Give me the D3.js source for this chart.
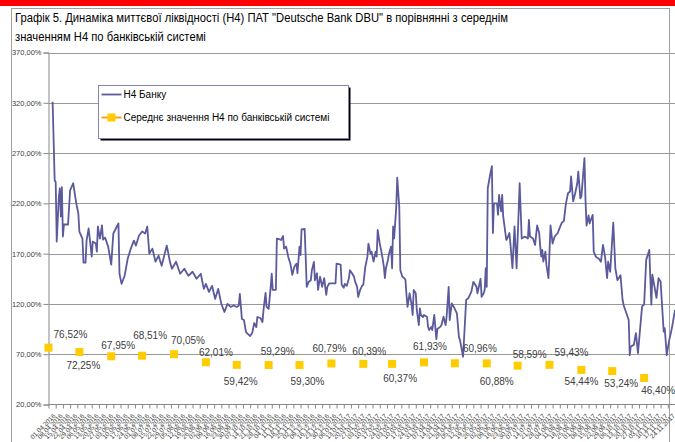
<!DOCTYPE html>
<html>
<head>
<meta charset="utf-8">
<script src="https://cdn.jsdelivr.net/npm/d3@7/dist/d3.min.js"></script>
<style>
  body { margin: 0; background: #fff; }
  svg { display: block; }
</style>
</head>
<body>
<div id="chart"></div>
<script>
// H4 of the bank: day offset from 01.04.2016 and value, %
const h4Day = [4, 6, 7, 8, 10, 11, 12, 13, 14, 15, 19, 21, 24, 27, 29, 30, 33, 34, 36, 37, 39, 41, 42, 43, 46, 47, 48, 50, 52, 53, 55, 57, 58, 61, 63, 68, 69,
  71, 74, 77, 80, 83, 85, 88, 91, 94, 96, 98, 101, 104, 107, 110, 113, 115, 118, 120, 124, 128, 132, 136, 140, 144, 148, 151, 153, 156, 159, 162, 165, 168, 171, 174,
  177, 180, 183, 185, 186, 188, 190, 192, 196, 198, 200, 202, 203, 206, 208, 209, 211, 212, 214, 216, 217, 218, 221, 222, 224, 226, 228, 229, 231, 233, 235, 237, 239,
  241, 242, 244, 245, 246, 249, 250, 251, 253, 255, 256, 258, 259, 261, 262, 264, 266, 268, 270, 271, 273, 279, 280, 284, 285, 287, 288, 290, 292, 293, 295, 297, 298,
  300, 301, 303, 305, 306, 308, 310, 311, 313, 314, 316, 318, 319, 320, 322, 324, 326, 327, 328, 330, 331, 333, 334, 335, 336, 338, 339, 341, 342, 344, 346, 347, 348,
  349, 351, 353, 354, 355, 357, 358, 360, 361, 362, 364, 365, 368, 369, 370, 372, 373, 375, 377, 378, 381, 382, 384, 386, 387, 389, 390, 392, 394, 397, 399, 400, 403,
  406, 408, 411, 413, 416, 417, 420, 421, 423, 424, 425, 426, 427, 429, 431, 432, 433, 436, 437, 438, 440, 441, 442, 445, 446, 448, 449, 451, 453, 455, 458, 460, 463,
  466, 467, 468, 471, 473, 475, 477, 478, 479, 480, 481, 483, 484, 486, 488, 490, 492, 495, 497, 499, 501, 503, 505, 507, 508, 510, 512, 514, 515, 517, 518, 521, 522,
  523, 525, 526, 529, 530, 532, 535, 537, 539, 541, 543, 544, 546, 549, 551, 553, 556, 558, 559, 564, 565, 566, 569, 571, 573, 577, 579, 581, 584, 586, 587, 591, 593,
  595, 598, 599, 601, 603, 606, 609];
const h4Value = [321, 243, 241, 182, 225, 235, 207, 236, 187, 199, 199, 233, 240, 220, 210, 192, 185, 161, 161, 183, 195, 177, 167, 182, 180, 172, 197, 185, 198, 184, 186, 180, 177, 159, 190, 200, 150,
  140, 148, 165, 175, 183, 178, 188, 192, 190, 197, 170, 175, 162, 168, 158, 170, 178, 162, 155, 162, 150, 155, 148, 152, 145, 150, 135, 140, 132, 138, 125, 135, 120, 112, 120,
  117, 118.5, 117, 118.5, 130, 105, 104, 92, 88, 91, 101, 97, 107, 106, 102, 114, 131, 117, 115, 137, 150, 134, 134, 185, 184.5, 183.5, 187.5, 175, 177, 167, 160.5, 149, 157,
  160, 150.5, 177, 168.5, 194, 194.5, 167, 137, 142, 143.5, 153.5, 161.7, 143.5, 150.5, 134, 147, 137, 145.6, 129, 137, 140.5, 140.5, 160, 159, 139, 136, 140, 138, 145.6, 153.5, 150.5, 147, 142.4,
  137, 127, 134, 138.4, 139, 157, 167, 180, 170, 172, 162, 172, 167, 193.5, 180, 170, 157, 145.6, 155.5, 164, 170, 177, 155.5, 197, 185, 216, 245.5, 216, 153.5, 147, 145.6, 143.5, 129,
  117, 130.6, 119, 109, 134, 130.6, 114, 99, 115.5, 109, 107, 109, 107, 97, 94, 97, 94, 109, 85, 95, 97.4, 99, 107.3, 99, 107.3, 137, 104, 120.6, 117, 110.5, 87, 84, 67.5,
  124, 125.6, 132, 142, 137, 130.6, 145, 127, 130.6, 134, 155.5, 137, 235, 246.7, 257, 190.5, 220, 220, 208.6, 228.5, 212, 228.5, 207, 183.6, 185.3, 190.5, 180, 155.5, 197, 155.5, 240, 185, 187,
  185, 203.6, 187, 185, 178.7, 198, 190.5, 177, 167, 173.7, 162, 172, 158.8, 145.6, 198, 180, 187, 190.5, 195.8, 200.8, 202.5, 220, 230, 231.8, 246.7, 222, 230, 240, 251.6, 225, 227, 265, 223.6,
  198, 208, 200, 208.6, 172, 167, 165, 162, 178.7, 167, 145.6, 162, 152, 200.8, 155.5, 143.6, 148.6, 124.4, 119, 104, 69, 77.6, 79.3, 91, 71, 117.6, 119.4, 163.8, 173.7, 119.3, 149, 126, 145.6,
  142.4, 92.6, 96, 69, 82, 96, 114];

// Monthly average H4 of the banking system, %
const avgMonth = ["2016-04", "2016-05", "2016-06", "2016-07", "2016-08", "2016-09", "2016-10", "2016-11", "2016-12", "2017-01",
  "2017-02", "2017-03", "2017-04", "2017-05", "2017-06", "2017-07", "2017-08", "2017-09", "2017-10", "2017-11"];
const avgValue = [76.52, 72.25, 67.95, 68.51, 70.05, 62.01, 59.42, 59.29, 59.30, 60.79,
  60.39, 60.37, 61.93, 60.96, 60.88, 58.59, 59.43, 54.44, 53.24, 46.40];

// label placement for the average values (nudge from the marker)
const avgLabelDx = [22, 4, 7, 8, 14, 10, 4, 9, 8, -2, 6, 8, 6, 25, 10, 12, 22, 0, 9, 14];
const avgLabelDy = [-13, 14, -11, -20, -14, -10, 17, -13, 17, -15, -12, 15, -16, -15, 18, -11, -12, 12, 12, 13];

const yTicks = [20, 70, 120, 170, 220, 270, 320, 370];

const tickDates = [
  "01.04.2016", "08.04.2016", "15.04.2016", "22.04.2016", "29.04.2016", "06.05.2016", "13.05.2016", "20.05.2016", "27.05.2016",
  "03.06.2016", "10.06.2016", "17.06.2016", "24.06.2016", "01.07.2016", "08.07.2016", "15.07.2016", "22.07.2016", "29.07.2016",
  "05.08.2016", "12.08.2016", "19.08.2016", "26.08.2016", "02.09.2016", "09.09.2016", "16.09.2016", "23.09.2016", "30.09.2016",
  "07.10.2016", "14.10.2016", "21.10.2016", "28.10.2016", "04.11.2016", "11.11.2016", "18.11.2016", "25.11.2016",
  "02.12.2016", "09.12.2016", "16.12.2016", "23.12.2016", "30.12.2016", "06.01.2017", "13.01.2017", "20.01.2017", "27.01.2017",
  "03.02.2017", "10.02.2017", "17.02.2017", "24.02.2017", "03.03.2017", "10.03.2017", "17.03.2017", "24.03.2017", "31.03.2017",
  "07.04.2017", "14.04.2017", "21.04.2017", "28.04.2017", "05.05.2017", "12.05.2017", "19.05.2017", "26.05.2017",
  "02.06.2017", "09.06.2017", "16.06.2017", "23.06.2017", "30.06.2017", "07.07.2017", "14.07.2017", "21.07.2017", "28.07.2017",
  "04.08.2017", "11.08.2017", "18.08.2017", "25.08.2017", "01.09.2017", "08.09.2017", "15.09.2017", "22.09.2017", "29.09.2017",
  "06.10.2017", "13.10.2017", "20.10.2017", "27.10.2017", "03.11.2017", "10.11.2017", "17.11.2017", "24.11.2017"];

const titleLines = ["Графік 5. Динаміка миттєвої ліквідності (Н4) ПАТ \"Deutsche Bank DBU\" в порівнянні з середнім",
  "значенням Н4 по банківській системі"];
const legendNames = ["Н4 Банку", "Середнє значення Н4 по банківській системі"];

const W = 675, H = 442;
const lineColor = "#5a5a9c";
const avgColor = "#ffcc00";
const font = "'Liberation Sans', Arial, sans-serif";

const svg = d3.select("#chart").append("svg")
  .attr("width", W).attr("height", H);

// outer frame
svg.append("rect").attr("x", 0).attr("y", 0).attr("width", W).attr("height", 6).attr("fill", "#ff0000");
svg.append("rect").attr("x", 11.5).attr("y", 8.5).attr("width", 658).attr("height", 460)
  .attr("fill", "none").attr("stroke", "#a0a0a0").attr("stroke-width", 1);

// title (narrow face, squeezed horizontally)
svg.selectAll("text.title").data(titleLines).enter().append("text")
  .attr("class", "title")
  .attr("transform", (d, i) => `translate(15,${22 + i * 19}) scale(0.865,1)`)
  .attr("font-family", "'Liberation Sans', Arial, sans-serif")
  .attr("font-size", "13px")
  .attr("fill", "#000")
  .text(d => d);

const parseTick = d3.timeParse("%d.%m.%Y");
const parseMonth = d3.timeParse("%Y-%m");
const start = parseMonth("2016-04");
const end = parseMonth("2017-12");

const x = d3.scaleTime().domain([start, end]).range([48.5, 675]);
const y = d3.scaleLinear().domain([20, 370]).range([404.5, 52.5]);

const fmtPct = v => d3.format(".2f")(v).replace(".", ",") + "%";

// gridlines
svg.append("g")
  .selectAll("line").data(yTicks.slice(1)).enter().append("line")
  .attr("x1", 48.5).attr("x2", W)
  .attr("y1", d => Math.round(y(d)) + 0.5).attr("y2", d => Math.round(y(d)) + 0.5)
  .attr("stroke", "#999").attr("stroke-width", 1.2);

// y axis
const yAxis = svg.append("g")
  .attr("transform", "translate(48.5,0)")
  .call(d3.axisLeft(y).tickValues(yTicks).tickSize(5).tickPadding(2).tickFormat(fmtPct));
yAxis.select(".domain").attr("stroke", "#888");
yAxis.selectAll(".tick line").attr("stroke", "#888");
yAxis.selectAll("text").attr("font-family", font).attr("font-size", "7.5px").attr("fill", "#404040");

// x axis
const xAxis = svg.append("g")
  .attr("transform", "translate(0,404.5)")
  .call(d3.axisBottom(x).tickValues(tickDates.map(parseTick)).tickSize(4)
    .tickFormat(d3.timeFormat("%d.%m.%Y")));
xAxis.select(".domain").attr("stroke", "#888").attr("d", "M48.5,0H675");
xAxis.selectAll(".tick line").attr("stroke", "#888");
xAxis.selectAll("text")
  .attr("font-family", font).attr("font-size", "6.5px").attr("fill", "#404040")
  .attr("text-anchor", "end")
  .attr("dy", null)
  .attr("transform", "translate(2,7) rotate(-45)");

// bank H4 line
const h4 = h4Day.map((d, i) => ({ date: d3.timeDay.offset(start, d), value: h4Value[i] }));
svg.append("path")
  .datum(h4)
  .attr("fill", "none")
  .attr("stroke", lineColor)
  .attr("stroke-width", 1.8)
  .attr("stroke-linejoin", "round")
  .attr("d", d3.line().x(d => x(d.date)).y(d => y(d.value)));

// system averages
const avg = avgMonth.map((m, i) => ({ date: parseMonth(m), value: avgValue[i], dx: avgLabelDx[i], dy: avgLabelDy[i] }));
svg.append("g").selectAll("rect").data(avg).enter().append("rect")
  .attr("x", d => x(d.date) - 4).attr("y", d => y(d.value) - 4)
  .attr("width", 8).attr("height", 8)
  .attr("fill", avgColor);

svg.append("g").selectAll("text").data(avg).enter().append("text")
  .attr("x", d => x(d.date) + d.dx)
  .attr("y", d => y(d.value) + d.dy)
  .attr("text-anchor", "middle")
  .attr("dominant-baseline", "central")
  .attr("font-family", font).attr("font-size", "10px").attr("fill", "#404040")
  .text(d => fmtPct(d.value));

// legend
const lg = svg.append("g").attr("transform", "translate(98.5,85.5)");
lg.append("rect").attr("x", 2).attr("y", 2).attr("width", 250).attr("height", 53).attr("fill", "#000");
lg.append("rect").attr("width", 250).attr("height", 53).attr("fill", "#fff")
  .attr("stroke", "#8585b5").attr("stroke-width", 1);
lg.append("line").attr("x1", 3).attr("x2", 23).attr("y1", 9).attr("y2", 9)
  .attr("stroke", lineColor).attr("stroke-width", 1.8);
lg.append("line").attr("x1", 3).attr("x2", 23).attr("y1", 32).attr("y2", 32)
  .attr("stroke", "#ff9900").attr("stroke-width", 1.8);
lg.append("rect").attr("x", 9).attr("y", 28).attr("width", 8).attr("height", 8).attr("fill", avgColor);
lg.selectAll("text").data(legendNames).enter().append("text")
  .attr("x", 25).attr("y", (d, i) => 9 + i * 23)
  .attr("dominant-baseline", "central")
  .attr("font-family", font).attr("font-size", "10px").attr("fill", "#000")
  .text(d => d);
</script>
</body>
</html>
